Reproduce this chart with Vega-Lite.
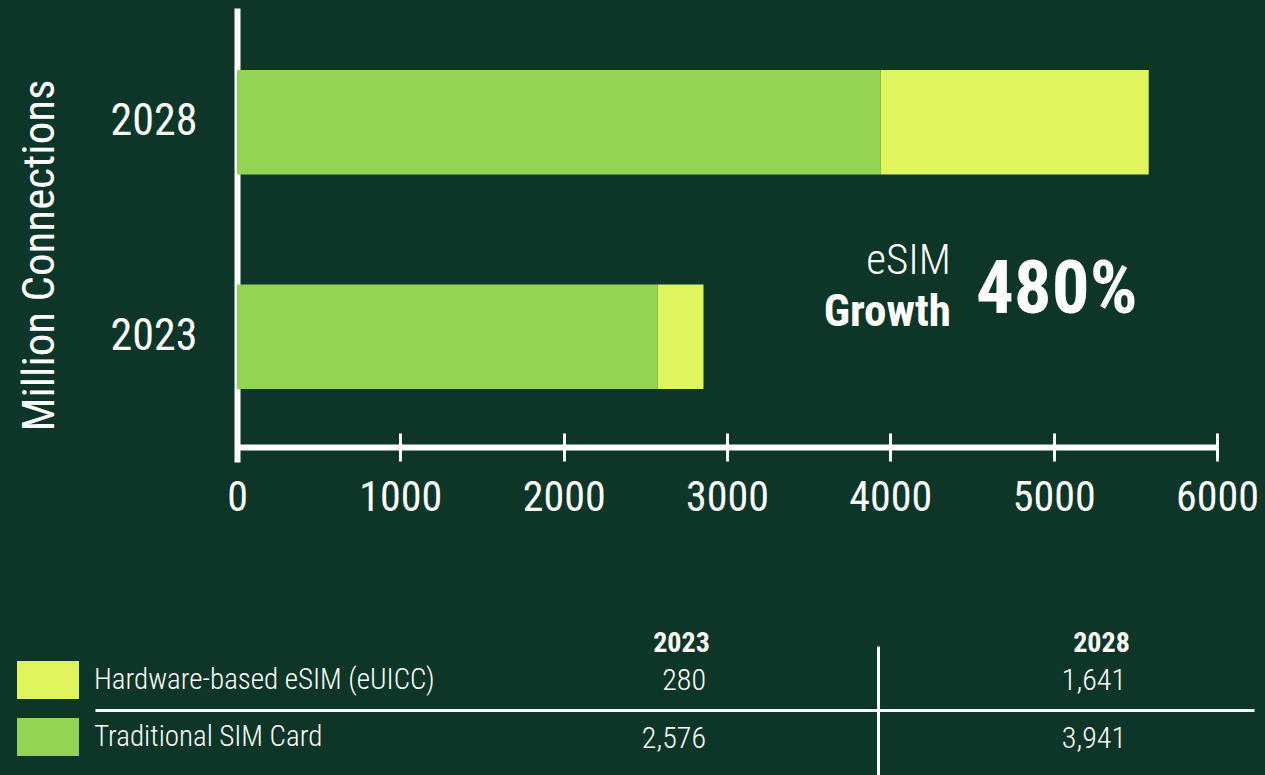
{
  "$schema": "https://vega.github.io/schema/vega-lite/v6.json",
  "background": "#0e3628",
  "padding": {"left": 16, "top": 8, "right": 0, "bottom": 0},
  "spacing": 111,
  "config": {
    "font": "Roboto Condensed, DejaVu Sans Condensed, sans-serif",
    "view": {"stroke": null},
    "axis": {"labelColor": "white", "titleColor": "white", "grid": false},
    "text": {"color": "white"}
  },
  "datasets": {
    "sims": [
      {"year": "2023", "series": "Traditional SIM Card", "value": 2576},
      {"year": "2023", "series": "Hardware-based eSIM (eUICC)", "value": 280},
      {"year": "2028", "series": "Traditional SIM Card", "value": 3941},
      {"year": "2028", "series": "Hardware-based eSIM (eUICC)", "value": 1641}
    ]
  },
  "resolve": {"legend": {"color": "independent"}},
  "vconcat": [
    {
      "width": 980,
      "height": 454,
      "resolve": {"axis": {"x": "independent"}},
      "encoding": {
        "y": {
          "field": "year", "type": "ordinal",
          "scale": {"domain": ["2028", "2023"], "paddingInner": 0.5126, "paddingOuter": 0.315, "align": 0.459},
          "axis": {
            "title": "Million Connections", "titleFontSize": 45, "titleFontWeight": "normal",
            "titleX": -175, "titleY": 247,
            "labelFontSize": 44, "labelPadding": 40, "ticks": false, "tickSize": 0,
            "domainColor": "white", "domainWidth": 6
          }
        }
      },
      "layer": [
        {
          "data": {"name": "sims"},
          "mark": {"type": "bar"},
          "encoding": {
            "x": {
              "field": "value", "type": "quantitative", "stack": "zero",
              "scale": {"domain": [0, 6000], "nice": false},
              "axis": {
                "orient": "bottom", "offset": -15, "values": [0, 1000, 2000, 3000, 4000, 5000, 6000],
                "format": "d", "title": null, "labelFontSize": 42, "labelPadding": 16, "labelFlush": false,
                "tickColor": "white", "tickWidth": 3, "tickSize": 14,
                "domainColor": "white", "domainWidth": 6
              }
            },
            "color": {
              "field": "series", "type": "nominal",
              "scale": {"domain": ["Hardware-based eSIM (eUICC)", "Traditional SIM Card"], "range": ["#e0f45e", "#94d354"]},
              "legend": null
            },
            "order": {"field": "series", "sort": "descending"}
          }
        },
        {
          "data": {"values": [{"year": "2023", "value": 4371, "note": "eSIM"}]},
          "mark": {"type": "text", "align": "right", "baseline": "alphabetic", "dy": -63, "fontSize": 43, "fontWeight": 300, "color": "white"},
          "encoding": {
            "x": {
              "field": "value", "type": "quantitative",
              "axis": {
                "orient": "bottom", "offset": -29, "values": [1000, 2000, 3000, 4000, 5000, 6000],
                "tickSize": 14, "tickWidth": 3, "tickColor": "white",
                "labels": false, "domain": false, "title": null
              }
            },
            "text": {"field": "note"}
          }
        },
        {
          "data": {"values": [{"year": "2023", "value": 4371, "note": "Growth"}]},
          "mark": {"type": "text", "align": "right", "baseline": "alphabetic", "dy": -11, "fontSize": 45, "fontWeight": "bold", "color": "white"},
          "encoding": {
            "x": {"field": "value", "type": "quantitative", "axis": null},
            "text": {"field": "note"}
          }
        },
        {
          "data": {"values": [{"year": "2023", "value": 4524, "note": "480%"}]},
          "mark": {"type": "text", "align": "left", "baseline": "alphabetic", "dy": -24, "fontSize": 75, "fontWeight": "bold", "color": "white"},
          "encoding": {
            "x": {"field": "value", "type": "quantitative", "axis": null},
            "text": {"field": "note"}
          }
        }
      ]
    },
    {
      "width": 1017,
      "height": 130,
      "data": {"name": "sims"},
      "resolve": {"scale": {"x": "independent"}, "axis": {"x": "independent"}},
      "encoding": {
        "y": {
          "field": "series", "type": "nominal",
          "scale": {"type": "band", "domain": ["Hardware-based eSIM (eUICC)", "Traditional SIM Card"], "paddingInner": 0, "paddingOuter": 0.1207, "align": 0.4286},
          "axis": {
            "title": null, "labels": false, "ticks": false, "domain": false,
            "grid": true, "bandPosition": 0, "gridColor": "white", "gridWidth": 3,
            "gridOpacity": {"condition": {"test": "datum.value == 'Traditional SIM Card'", "value": 1}, "value": 0}
          }
        }
      },
      "layer": [
        {
          "mark": {"type": "bar", "opacity": 0},
          "encoding": {
            "x": {
              "field": "year", "type": "ordinal",
              "scale": {"type": "band", "domain": ["2023", "2028"], "range": [-142, 1017], "paddingInner": 0, "paddingOuter": 0.5453, "align": 1},
              "axis": {
                "orient": "top", "title": null, "bandPosition": 0, "labels": false,
                "ticks": false, "tickSize": 0, "domain": false,
                "grid": true, "gridColor": "white", "gridWidth": 3,
                "gridOpacity": {"condition": {"test": "datum.value == '2028'", "value": 1}, "value": 0}
              }
            },
            "color": {
              "field": "series", "type": "nominal",
              "legend": {
                "orient": "none", "legendX": -220, "legendY": 3, "title": null,
                "symbolType": "M-1,-0.613H1V0.613H-1Z", "symbolSize": 3844, "symbolOpacity": 1, "symbolStrokeWidth": 0,
                "labelFontSize": 29, "labelFontWeight": 300, "labelColor": "white", "labelOffset": 15, "rowPadding": 6, "padding": 0, "labelLimit": 600
              }
            }
          }
        },
        {
          "mark": {"type": "text", "align": "right", "baseline": "middle", "fontSize": 30, "fontWeight": 300, "color": "white"},
          "encoding": {
            "x": {
              "field": "year", "type": "ordinal",
              "scale": {"type": "point", "domain": ["2023", "2028"], "range": [469, 889], "padding": 0},
              "axis": {
                "orient": "top", "title": null, "labelOffset": -25, "labelAngle": 0,
                "labelFontSize": 28, "labelFontWeight": "bold", "labelBaseline": "alphabetic", "labelPadding": -5,
                "ticks": false, "tickSize": 0, "domain": false, "grid": false
              }
            },
            "text": {"field": "value", "type": "quantitative", "format": ","}
          }
        }
      ]
    }
  ]
}
